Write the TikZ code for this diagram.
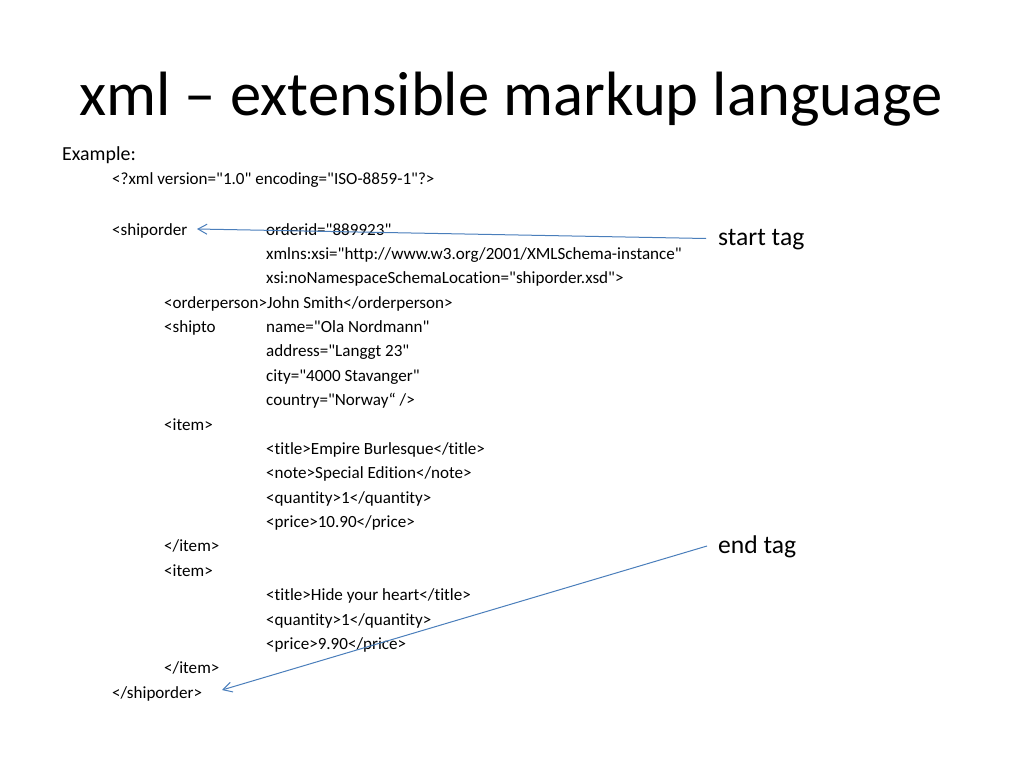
\documentclass[tikz,border=0pt]{standalone}
\usepackage{fontspec}
\setmainfont{Carlito}[Ligatures={TeXOff,CommonOff}]
\usetikzlibrary{arrows.meta}
\definecolor{arrowblue}{HTML}{4A7EBB}
\tikzset{
  code/.style={anchor=base west, inner sep=0pt, font=\fontsize{17.07}{17.07}\selectfont},
  big/.style={anchor=base west, inner sep=0pt, font=\fontsize{25.6}{25.6}\selectfont},
  pointer/.style={draw=arrowblue, line width=1pt, -{Straight Barb[length=9pt,width=10pt]}},
}
\begin{document}
\begin{tikzpicture}[x=1pt,y=-1pt]
\useasboundingbox (0,0) rectangle (1024,768);
\node[anchor=base, inner sep=0pt, font=\fontsize{62.6}{62.6}\selectfont] (title) at (511,115) {xml – extensible markup language};
\node[anchor=base west, inner sep=0pt, font=\fontsize{19.9}{19.9}\selectfont] (example) at (62,160) {Example:};
\node[code] (decl) at (112,184) {<?xml version="1.0" encoding="ISO-8859-1"?>};
\node[code] (shiporder) at (112,235) {<shiporder};
\node[code] (orderid) at (266,235) {orderid="889923"};
\node[code] (xmlns) at (266,259.4) {xmlns:xsi="http://www.w3.org/2001/XMLSchema-instance"};
\node[code] (xsi) at (266,283.7) {xsi:noNamespaceSchemaLocation="shiporder.xsd">};
\node[code] (orderperson) at (164,308.1) {<orderperson>John Smith</orderperson>};
\node[code] (shipto) at (164,332.5) {<shipto};
\node[code] (name) at (266,332.5) {name="Ola Nordmann"};
\node[code] (address) at (266,356.9) {address="Langgt 23"};
\node[code] (city) at (266,381.2) {city="4000 Stavanger"};
\node[code] (country) at (266,405.6) {country="Norway“ />};
\node[code] (item1) at (164,430) {<item>};
\node[code] (title1) at (266,454.4) {<title>Empire Burlesque</title>};
\node[code] (note1) at (266,478.7) {<note>Special Edition</note>};
\node[code] (qty1) at (266,503.1) {<quantity>1</quantity>};
\node[code] (price1) at (266,527.5) {<price>10.90</price>};
\node[code] (enditem1) at (164,551.9) {</item>};
\node[code] (item2) at (164,576.2) {<item>};
\node[code] (title2) at (266,600.6) {<title>Hide your heart</title>};
\node[code] (qty2) at (266,625) {<quantity>1</quantity>};
\node[code] (price2) at (266,649.4) {<price>9.90</price>};
\node[code] (enditem2) at (164,673.7) {</item>};
\node[code] (endship) at (112,698) {</shiporder>};
\node[big] (starttag) at (718,245) {start tag};
\node[big] (endtag) at (718,553) {end tag};
\coordinate (stfrom) at (706,238.5);
\coordinate (stto) at (197,229);
\coordinate (etfrom) at (707,546);
\coordinate (etto) at (222,690);
\draw[pointer] (stfrom) -- (stto);
\draw[pointer] (etfrom) -- (etto);
\end{tikzpicture}
\end{document}
